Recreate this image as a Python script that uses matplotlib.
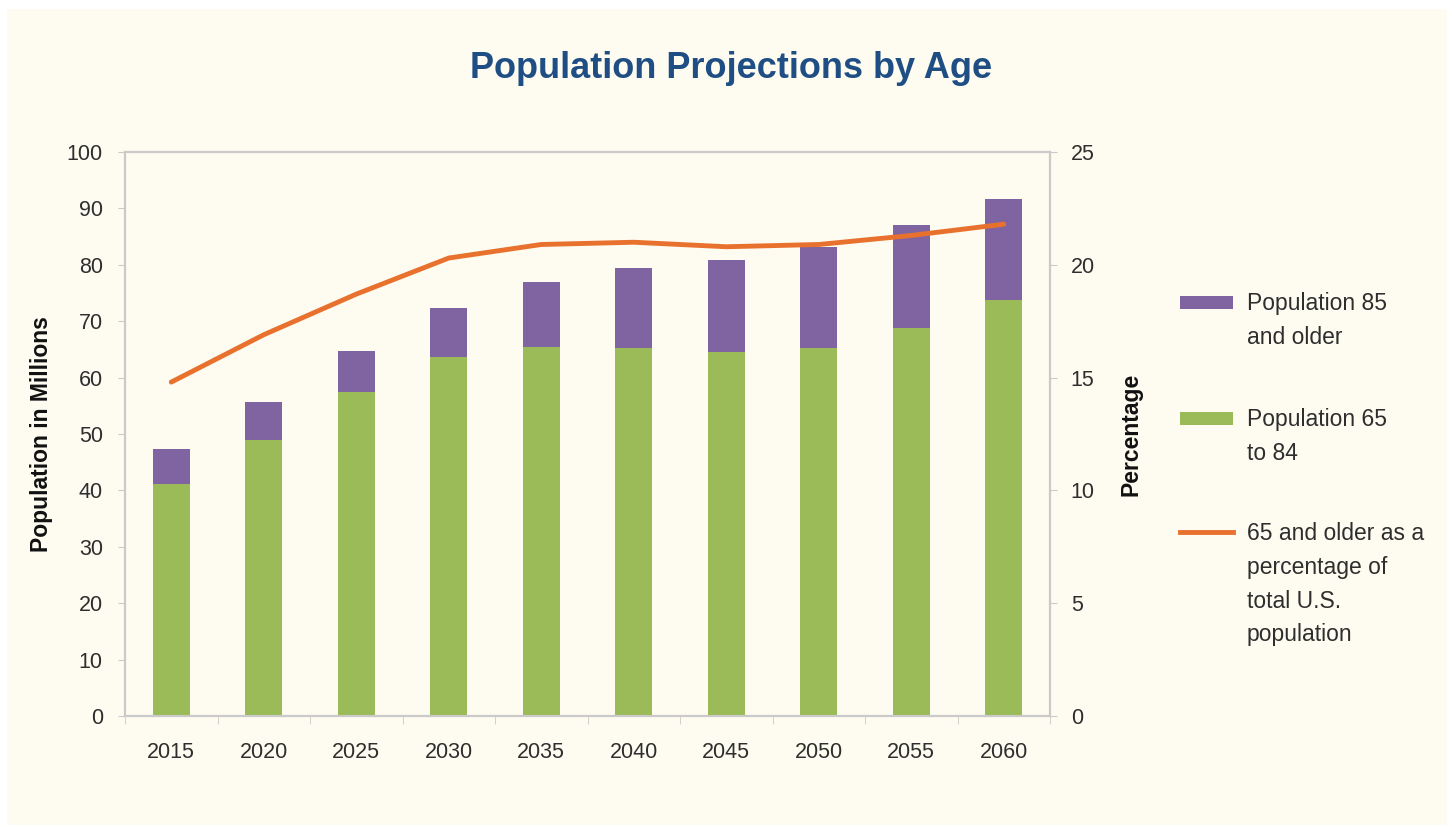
import matplotlib
matplotlib.use("Agg")
import matplotlib.pyplot as plt
from matplotlib.patches import Rectangle
from matplotlib.lines import Line2D
import numpy as np

plt.rcParams['font.family'] = ['Liberation Sans', 'DejaVu Sans']

years = ['2015', '2020', '2025', '2030', '2035', '2040', '2045', '2050', '2055', '2060']
pop_65_84 = [41.2, 49.0, 57.5, 63.7, 65.4, 65.3, 64.6, 65.3, 68.8, 73.7]
pop_total_65plus = [47.3, 55.6, 64.7, 72.4, 77.0, 79.5, 80.9, 83.1, 87.1, 91.7]
pop_85_plus = [t - a for t, a in zip(pop_total_65plus, pop_65_84)]
pct_65plus = [14.8, 16.9, 18.7, 20.3, 20.9, 21.0, 20.8, 20.9, 21.3, 21.8]

left_ticks = [0, 10, 20, 30, 40, 50, 60, 70, 80, 90, 100]
right_ticks = [0, 5, 10, 15, 20, 25]

legend_labels = [
    'Population 85\nand older',
    'Population 65\nto 84',
    '65 and older as a\npercentage of\ntotal U.S.\npopulation',
]

CREAM = '#FEFCF0'
GREEN = '#9BBB59'
PURPLE = '#8064A2'
ORANGE = '#E8712E'
SPINE = '#CACACA'
TXT = '#2E2E2E'

W, H = 1452, 827
fig = plt.figure(figsize=(W / 100, H / 100), dpi=100, facecolor='white')
fig.patches.append(Rectangle((7 / W, 2 / H), (1447 - 7) / W, (825 - 9) / H,
                             transform=fig.transFigure, facecolor=CREAM,
                             edgecolor='none', zorder=-10))

ax = fig.add_axes([125 / W, 1 - 716 / H, (1050 - 125) / W, (716 - 152) / H])
ax.set_facecolor(CREAM)
x = np.arange(len(years))
ax.bar(x, pop_65_84, width=0.4, color=GREEN, zorder=2)
ax.bar(x, pop_85_plus, width=0.4, bottom=pop_65_84, color=PURPLE, zorder=2)
ax.set_xlim(-0.5, len(years) - 0.5)
ax.set_ylim(0, 100)
ax.set_yticks(left_ticks)
ax.set_yticklabels([str(v) for v in left_ticks], fontsize=15.5, color=TXT)
ax.set_xticks(x)
ax.set_xticklabels(years, fontsize=15.5, color=TXT)
ax.set_xticks(np.arange(-0.5, len(years)), minor=True)
ax.tick_params(axis='x', which='major', length=0, pad=19)
ax.tick_params(axis='x', which='minor', length=6, color=SPINE, direction='out')
ax.tick_params(axis='y', length=5, color=SPINE, pad=11)
for s in ax.spines.values():
    s.set_color(SPINE)
    s.set_linewidth(1.5)
ax.set_ylabel('Population in Millions', fontsize=16.5, fontweight='bold',
              color='#111111', labelpad=10)

ax2 = ax.twinx()
ax2.plot(x, pct_65plus, color=ORANGE, linewidth=3.5, zorder=3,
         solid_capstyle='round', solid_joinstyle='round')
ax2.set_ylim(0, 25)
ax2.set_yticks(right_ticks)
ax2.set_yticklabels([str(v) for v in right_ticks], fontsize=15.5, color=TXT)
ax2.tick_params(axis='y', length=5, color=SPINE, pad=10)
for s in ax2.spines.values():
    s.set_color(SPINE)
    s.set_linewidth(1.5)
ax2.set_ylabel('Percentage', fontsize=16.5, fontweight='bold', color='#111111',
               labelpad=18)

fig.text(731 / W, 1 - 69 / H, 'Population Projections by Age', fontsize=26,
         fontweight='bold', color='#1F4E85', ha='center', va='center')

# legend, drawn entry by entry so the key aligns with the first text line
entry_y = [302, 418, 532]
colors = [PURPLE, GREEN, ORANGE]
for i, (lab, yy, c) in enumerate(zip(legend_labels, entry_y, colors)):
    if i < 2:
        fig.patches.append(Rectangle((1180 / W, 1 - (yy + 7) / H), 53 / W, 13 / H,
                                     transform=fig.transFigure, facecolor=c,
                                     edgecolor='none'))
    else:
        fig.add_artist(Line2D([1180 / W, 1233 / W], [1 - yy / H, 1 - yy / H],
                              transform=fig.transFigure, color=c, linewidth=3.5))
    fig.text(1247 / W, 1 - (yy - 10) / H, lab, fontsize=16.5, color=TXT,
             ha='left', va='top', linespacing=1.6)

fig.savefig('out.png', dpi=100, facecolor='white')
